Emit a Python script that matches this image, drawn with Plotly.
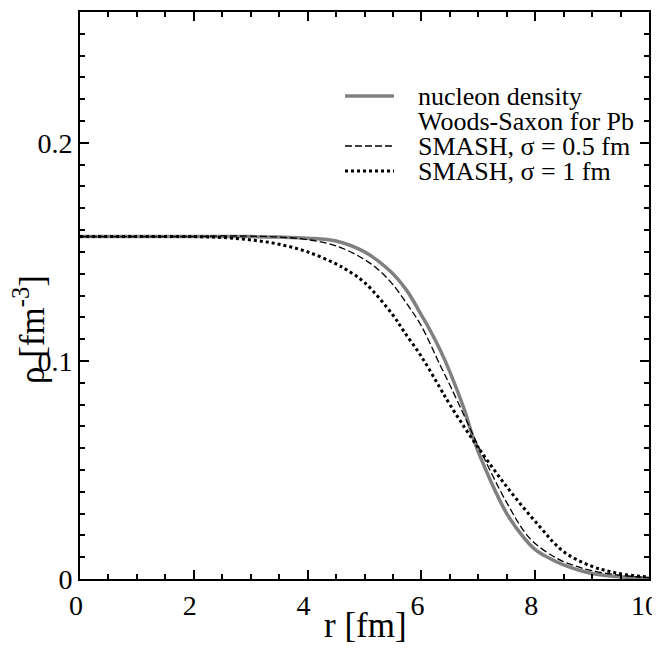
import plotly.graph_objects as go

# Woods-Saxon nucleon density (gray solid)
r_ws = [0, 1, 2, 3, 3.5, 4, 4.5, 5, 5.45, 5.75, 6, 6.15, 6.33, 6.5, 6.75, 6.94, 7.2, 7.5, 7.8, 8, 8.2, 8.5, 9, 9.5, 10]
rho_ws = [0.157, 0.157, 0.157, 0.157, 0.1568, 0.1563, 0.155, 0.150, 0.1412, 0.132, 0.121, 0.1142, 0.105, 0.095, 0.078, 0.0624, 0.046, 0.030, 0.019, 0.0135, 0.0102, 0.0065, 0.0025, 0.001, 0.0003]

# SMASH, sigma = 0.5 fm (dashed)
r_s05 = [0, 1, 2, 2.5, 3, 3.5, 4, 4.5, 5, 5.27, 5.5, 5.75, 6, 6.33, 6.5, 6.75, 7, 7.5, 7.91, 8.38, 8.7, 9, 9.5, 10]
rho_s05 = [0.157, 0.157, 0.157, 0.1573, 0.1572, 0.1568, 0.1556, 0.1528, 0.1465, 0.1412, 0.135, 0.126, 0.116, 0.098, 0.089, 0.075, 0.061, 0.035, 0.0185, 0.0095, 0.006, 0.0038, 0.0017, 0.0006]

# SMASH, sigma = 1 fm (dotted)
r_s1 = [0, 1, 2, 2.5, 3, 3.5, 4, 4.5, 4.69, 5, 5.5, 5.68, 6, 6.33, 6.5, 6.9, 7.5, 8.08, 8.5, 9, 9.3, 9.6, 10]
rho_s1 = [0.157, 0.157, 0.157, 0.1566, 0.1555, 0.1535, 0.150, 0.1445, 0.1417, 0.136, 0.121, 0.114, 0.102, 0.0875, 0.080, 0.064, 0.0423, 0.024, 0.0125, 0.0058, 0.0035, 0.002, 0.0009]

x_ticks = [0, 2, 4, 6, 8, 10]
y_ticks = [0, 0.1, 0.2]
y_tick_labels = ["0", "0.1", "0.2"]

legend_labels = ["nucleon density", "Woods-Saxon for Pb", "SMASH, σ = 0.5 fm", "SMASH, σ = 1 fm"]
x_title = "r [fm]"
y_title = "ρ [fm<sup>-3</sup>]"

FONT = "Liberation Serif, Times New Roman, serif"

# The page body adds an 8 px offset, so the figure is made 8 px smaller
OFF = 8
FIG_W, FIG_H = 660 - OFF, 654 - OFF
# plot area in screen pixels
SL, SR, ST, SB = 80, 649, 12, 579
L, R, T, B = SL - OFF, SR - OFF, ST - OFF, SB - OFF
W_PX, H_PX = R - L, B - T


def px_x(p):
    return (p - OFF - L) / W_PX


def px_y(p):
    return (B - (p - OFF)) / H_PX


fig = go.Figure()
fig.add_trace(go.Scatter(x=r_ws, y=rho_ws, mode="lines", line_shape="spline",
                         name="nucleon density Woods-Saxon for Pb",
                         line=dict(color="rgb(128,128,128)", width=3.5)))
fig.add_trace(go.Scatter(x=r_s05, y=rho_s05, mode="lines", line_shape="spline",
                         name="SMASH, σ = 0.5 fm",
                         line=dict(color="black", width=1.3, dash="7px,3px")))
fig.add_trace(go.Scatter(x=r_s1, y=rho_s1, mode="lines", line_shape="spline",
                         name="SMASH, σ = 1 fm",
                         line=dict(color="black", width=3, dash="dot")))

axis_common = dict(
    showline=True, linewidth=2, linecolor="black", mirror="ticks",
    ticks="inside", ticklen=9, tickwidth=2, tickcolor="black",
    showgrid=False, zeroline=False, automargin=False,
    ticklabeloverflow="allow",
    tickfont=dict(family=FONT, size=28, color="black"),
)

fig.update_xaxes(range=[0, 10], tickvals=x_ticks, ticklabelshift=-4,
                 minor=dict(dtick=0.5, ticks="inside", ticklen=5, tickwidth=2, tickcolor="black", showgrid=False),
                 **axis_common)
fig.update_yaxes(range=[0, 0.26], tickvals=y_ticks, ticktext=y_tick_labels,
                 minor=dict(dtick=0.01, ticks="inside", ticklen=5, tickwidth=2, tickcolor="black", showgrid=False),
                 **axis_common)

# axis titles (placed as in the original, y title sits low beside the 0.1 label)
fig.add_annotation(xref="paper", yref="paper", x=px_x(365), y=px_y(625),
                   xanchor="center", yanchor="middle", showarrow=False,
                   text=x_title, font=dict(family=FONT, size=35, color="black"))
fig.add_annotation(xref="paper", yref="paper", x=px_x(29), y=px_y(330),
                   xanchor="center", yanchor="middle", showarrow=False, textangle=-90,
                   text=y_title, font=dict(family=FONT, size=35, color="black"))

# hand-drawn legend (matches the compact original layout)
legend_rows_px = [96, 121, 146, 171]
line_styles = [
    dict(color="rgb(128,128,128)", width=3.5),
    None,
    dict(color="black", width=1.3, dash="7px,3px"),
    dict(color="black", width=3, dash="dot"),
]
for row, style in zip(legend_rows_px, line_styles):
    if style is None:
        continue
    fig.add_shape(type="line", xref="paper", yref="paper",
                  x0=px_x(345), x1=px_x(394), y0=px_y(row), y1=px_y(row), line=style)
for row, label in zip(legend_rows_px, legend_labels):
    fig.add_annotation(xref="paper", yref="paper", x=px_x(416), y=px_y(row),
                       xanchor="left", yanchor="middle", showarrow=False,
                       text=label, font=dict(family=FONT, size=26, color="black"))

fig.update_layout(
    width=FIG_W, height=FIG_H,
    margin=dict(l=L, r=FIG_W - R, t=T, b=FIG_H - B),
    paper_bgcolor="white", plot_bgcolor="white",
    showlegend=False,
)

fig.write_html("out.html")
